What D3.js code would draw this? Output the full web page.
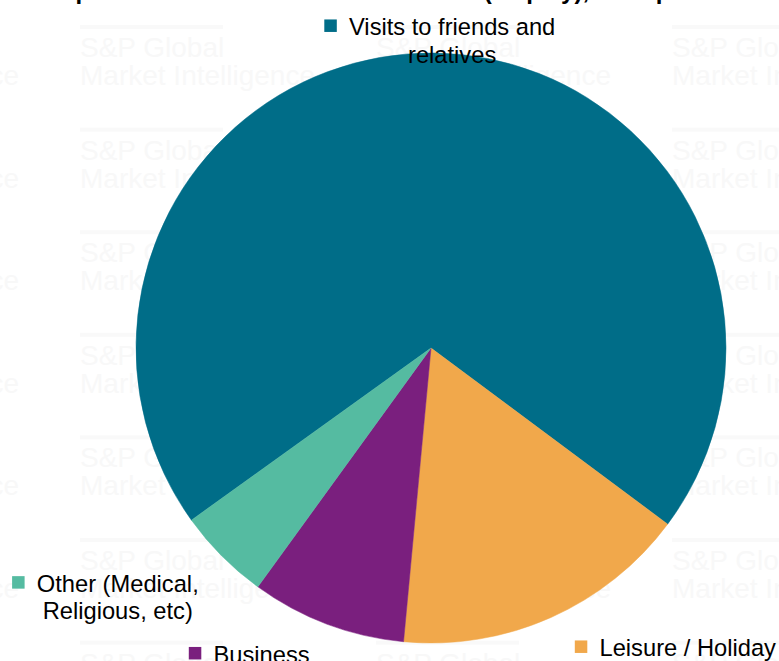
<!DOCTYPE html>
<html><head><meta charset="utf-8">
<script src="https://cdn.jsdelivr.net/npm/d3@7"></script>
<style>html,body{margin:0;padding:0;background:#fff;overflow:hidden}</style>
</head><body>
<svg id="chart" width="779" height="661"></svg>
<script>
// ---- data ----
const categories = ["Visits to friends and relatives", "Leisure / Holiday", "Business", "Other (Medical, Religious, etc)"];
const shares = [70.1, 16.3, 8.5, 5.1];
const colors = ["#006d88", "#f1a84b", "#7a1f7e", "#55bba1"];
const titleText = "Top reasons for arrivals to the market (display), 2023 profile";
const watermarkLines = ["S&P Global", "Market Intelligence"];

// ---- layout ----
const W = 779, H = 661;
const cx = 431, cy = 348, R = 295;
const startDeg = -125.7;
const fontFamily = "'Liberation Sans', Arial, Helvetica, sans-serif";
const legendFont = 23.7, lineH = 27.5, sq = 12.5;
const legendLayout = [
  {left: 349, base: 35, maxW: 215},
  {left: 599.5, base: 656, maxW: 300},
  {left: 213.5, base: 662.5, maxW: 300},
  {left: 36.8, base: 591.7, maxW: 170}
];

const svg = d3.select("#chart");
svg.append("rect").attr("width", W).attr("height", H).attr("fill", "#fff");

// very faint watermark grid
const wm = svg.append("g");
const colXs = d3.range(-216, W, 296);
const rowYs = d3.range(27, H + 20, 102.6);
rowYs.forEach(ry => colXs.forEach(cxw => {
  wm.append("rect").attr("x", cxw).attr("y", ry - 2).attr("width", 143).attr("height", 4).attr("fill", "#f9f9f9");
  wm.append("text").attr("x", cxw).attr("y", ry + 30).attr("font-family", fontFamily)
    .attr("font-size", 28).attr("fill", "#f8f8f8").text(watermarkLines[0]);
  wm.append("text").attr("x", cxw).attr("y", ry + 58).attr("font-family", fontFamily)
    .attr("font-size", 28).attr("fill", "#f8f8f8").text(watermarkLines[1]);
}));

// title (mostly cropped above the frame)
svg.append("text").attr("x", 48).attr("y", -1).attr("font-family", fontFamily)
  .attr("font-size", 24).attr("font-weight", "bold").attr("fill", "#000").text(titleText);

// pie
const a0 = startDeg * Math.PI / 180;
const pie = d3.pie().sort(null).value(d => d.v).startAngle(a0).endAngle(a0 + 2 * Math.PI);
const arc = d3.arc().innerRadius(0).outerRadius(R);
const data = categories.map((c, i) => ({c, v: shares[i], col: colors[i]}));
svg.append("g").attr("transform", `translate(${cx},${cy})`)
  .selectAll("path").data(pie(data)).join("path")
  .attr("d", arc).attr("fill", d => d.data.col)
  .attr("stroke", d => d.data.col).attr("stroke-width", 0.5);

// legend
const lg = svg.append("g");
data.forEach((d, i) => {
  const L = legendLayout[i];
  const g = lg.append("g");
  const words = d.c.split(" ");
  const lines = [];
  let cur = "";
  const meas = g.append("text").attr("font-family", fontFamily).attr("font-size", legendFont);
  words.forEach(w => {
    const t = cur ? cur + " " + w : w;
    meas.text(t);
    if (meas.node().getComputedTextLength() > L.maxW && cur) { lines.push(cur); cur = w; }
    else cur = t;
  });
  lines.push(cur);
  meas.text(lines[0]);
  const w0 = meas.node().getComputedTextLength();
  meas.remove();
  const mid = L.left + w0 / 2;
  lines.forEach((ln, k) => {
    g.append("text").attr("x", mid).attr("y", L.base + k * lineH)
      .attr("text-anchor", "middle").attr("font-family", fontFamily)
      .attr("font-size", legendFont).attr("fill", "#000").text(ln);
  });
  g.append("rect").attr("x", L.left - 24.7).attr("y", L.base - 9.3 - sq / 2)
    .attr("width", sq).attr("height", sq).attr("fill", d.col);
});
</script>
</body></html>
